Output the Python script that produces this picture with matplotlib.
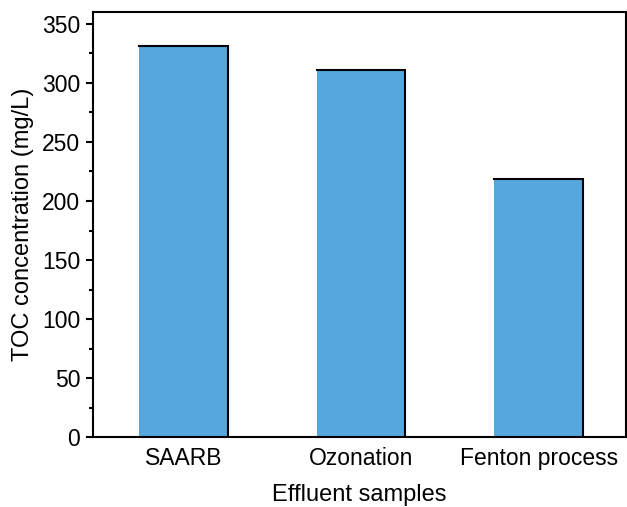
import matplotlib
matplotlib.use("Agg")
import matplotlib.pyplot as plt
from matplotlib.ticker import MultipleLocator
import numpy as np

categories = ["SAARB", "Ozonation", "Fenton process"]
toc_values = [331, 311, 219]

plt.rcParams['font.family'] = ['Liberation Sans', 'DejaVu Sans']

fig = plt.figure(figsize=(6.27, 5.07), dpi=100)
ax = fig.add_axes([0.148, 0.138, 0.85, 0.838])

x = np.arange(len(categories))
width = 0.5
ax.bar(x, toc_values, width=width, color='#56A7DD', edgecolor='none', zorder=2)
for xi, v in zip(x, toc_values):
    ax.plot([xi - width / 2, xi + width / 2, xi + width / 2], [v, v, 0],
            color='black', lw=1.5, solid_joinstyle='miter', zorder=3)

ax.set_xlim(-0.51, 2.49)
ax.set_ylim(0, 360)
ax.set_xticks(x)
ax.set_xticklabels(categories)
ax.yaxis.set_major_locator(MultipleLocator(50))
ax.yaxis.set_minor_locator(MultipleLocator(25))

for s in ax.spines.values():
    s.set_linewidth(1.5)

ax.tick_params(axis='x', direction='in', length=5, width=1.5, labelsize=16.5, pad=7)
ax.tick_params(axis='y', which='major', direction='out', length=5, width=1.5, labelsize=16.5, pad=4)
ax.tick_params(axis='y', which='minor', direction='out', length=3, width=1.5)
ax.set_xlabel("Effluent samples", fontsize=17, labelpad=10)
ax.set_ylabel("TOC concentration (mg/L)", fontsize=17, labelpad=6)

fig.savefig("out.png", dpi=100)
